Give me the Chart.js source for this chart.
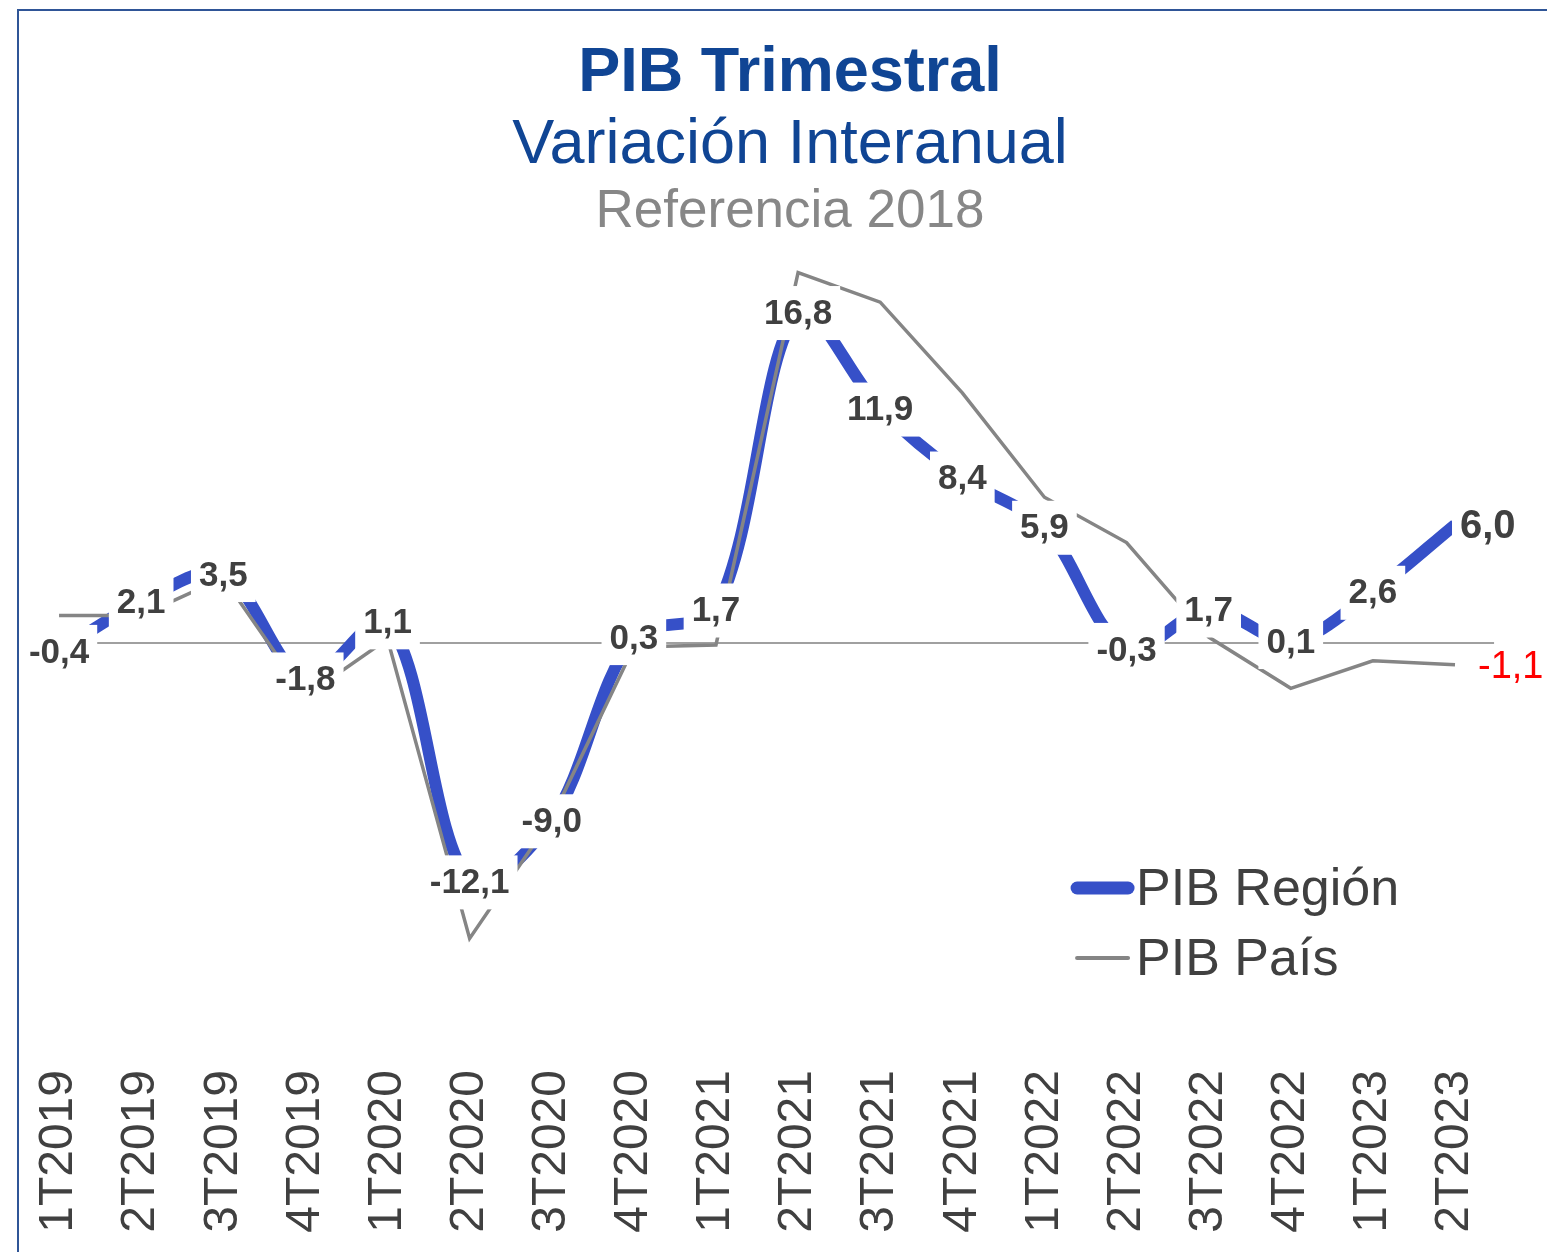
<!DOCTYPE html>
<html lang="es">
<head>
<meta charset="utf-8">
<title>PIB Trimestral</title>
<script src="https://cdn.jsdelivr.net/npm/chart.js@4.4.0/dist/chart.umd.min.js"></script>
<style>
    html, body { margin: 0; padding: 0; background: #fff; overflow: hidden; }
    #marco {
        position: absolute; left: 17px; top: 9px; width: 1600px; height: 1300px;
        border-top: 2px solid #2F5597; border-left: 2px solid #2F5597;
    }
    #grafico { position: absolute; left: 0; top: 0; }
</style>
</head>
<body>
<div id="marco"></div>
<canvas id="grafico" width="1547" height="1252"></canvas>
<script>
(function () {
    "use strict";

    var titulo = 'PIB Trimestral';
    var subtitulo = 'Variación Interanual';
    var referencia = 'Referencia 2018';

    var trimestres = ['1T2019', '2T2019', '3T2019', '4T2019', '1T2020', '2T2020', '3T2020', '4T2020', '1T2021',
        '2T2021', '3T2021', '4T2021', '1T2022', '2T2022', '3T2022', '4T2022', '1T2023', '2T2023'];
    var pibRegion = [-0.4, 2.1, 3.5, -1.8, 1.1, -12.1, -9.0, 0.3, 1.7, 16.8, 11.9, 8.4, 5.9, -0.3, 1.7, 0.1, 2.6, 6.0];
    var pibPais = [1.4, 1.4, 3.3, -2.7, 0.2, -15.0, -8.9, -0.2, -0.1, 18.8, 17.3, 12.7, 7.4, 5.1, 0.3, -2.3, -0.9, -1.1];

    var fuente = '"Liberation Sans", Arial, sans-serif';

    function formato(v) {
        return v.toFixed(1).replace('.', ',');
    }

    // titulos centrados arriba
    var titulos = {
        id: 'titulos',
        afterDraw: function (chart) {
            var ctx = chart.ctx;
            var cx = 790;
            ctx.save();
            ctx.textAlign = 'center';
            ctx.textBaseline = 'alphabetic';
            ctx.fillStyle = '#104594';
            ctx.font = 'bold 63px ' + fuente;
            ctx.fillText(titulo, cx, 91);
            ctx.font = '63px ' + fuente;
            ctx.fillText(subtitulo, cx, 163);
            ctx.fillStyle = '#878787';
            ctx.font = '53px ' + fuente;
            ctx.fillText(referencia, cx, 227);
            ctx.restore();
        }
    };

    // linea del cero
    var lineaCero = {
        id: 'lineaCero',
        beforeDatasetsDraw: function (chart) {
            var a = chart.chartArea;
            var y0 = chart.scales.y.getPixelForValue(0);
            var ctx = chart.ctx;
            ctx.save();
            ctx.strokeStyle = '#A0A0A0';
            ctx.lineWidth = 2;
            ctx.beginPath();
            ctx.moveTo(a.left + 10, y0);
            ctx.lineTo(a.right - 2, y0);
            ctx.stroke();
            ctx.restore();
        }
    };

    // etiquetas de datos con fondo blanco
    var etiquetas = {
        id: 'etiquetas',
        afterDatasetsDraw: function (chart) {
            var ctx = chart.ctx;
            var region = chart.getDatasetMeta(0);
            var pais = chart.getDatasetMeta(1);
            var ultimo = pibRegion.length - 1;
            ctx.save();
            ctx.textBaseline = 'middle';
            region.data.forEach(function (pt, i) {
                var txt = formato(pibRegion[i]);
                ctx.font = 'bold ' + (i === ultimo ? 40 : 35) + 'px ' + fuente;
                var w = ctx.measureText(txt).width + 16;
                var left = i === ultimo ? pt.x - 3 : pt.x - w / 2;
                ctx.fillStyle = '#fff';
                ctx.fillRect(left, pt.y - 26, w, 54);
                ctx.fillStyle = '#404040';
                ctx.textAlign = 'left';
                ctx.fillText(txt, left + 8, pt.y + 2);
            });
            var p = pais.data[ultimo];
            ctx.font = '38px ' + fuente;
            ctx.fillStyle = '#FF0000';
            ctx.textAlign = 'left';
            ctx.fillText(formato(pibPais[ultimo]), p.x + 23, p.y + 3);
            ctx.restore();
        }
    };

    // leyenda dentro del area
    var leyenda = {
        id: 'leyenda',
        afterDraw: function (chart) {
            var a = chart.chartArea;
            var ctx = chart.ctx;
            var x = a.right - 426;
            ctx.save();
            chart.data.datasets.forEach(function (ds, i) {
                var y = a.bottom - 149 + i * 70;
                ctx.strokeStyle = ds.borderColor;
                ctx.lineWidth = i === 0 ? 13 : 4;
                ctx.lineCap = 'round';
                ctx.beginPath();
                ctx.moveTo(x + 7, y);
                ctx.lineTo(x + 58, y);
                ctx.stroke();
                ctx.fillStyle = '#404040';
                ctx.font = '52px ' + fuente;
                ctx.textAlign = 'left';
                ctx.textBaseline = 'alphabetic';
                ctx.fillText(ds.label, x + 66, y + 17);
            });
            ctx.restore();
        }
    };

    var ctx = document.getElementById('grafico').getContext('2d');
    var chart = new Chart(ctx, {
        type: 'line',
        data: {
            labels: trimestres,
            datasets: [{
                label: 'PIB Región',
                data: pibRegion,
                borderColor: '#3650C8',
                borderWidth: 12,
                tension: 0.33,
                pointRadius: 0,
                borderJoinStyle: 'round',
                order: 2
            },
            {
                label: 'PIB País',
                data: pibPais,
                borderColor: '#858585',
                borderWidth: 3.5,
                tension: 0,
                pointRadius: 0,
                order: 1
            }]
        },
        options: {
            responsive: false,
            animation: false,
            devicePixelRatio: 1,
            layout: {
                padding: { left: 18, right: 50, top: 249, bottom: 0 }
            },
            scales: {
                x: {
                    offset: true,
                    grid: { display: false, drawTicks: false },
                    border: { display: false },
                    ticks: {
                        autoSkip: false,
                        minRotation: 90,
                        maxRotation: 90,
                        padding: 33,
                        color: '#404040',
                        font: { family: fuente, size: 48 }
                    },
                    afterFit: function (scale) {
                        scale.height = 215;
                    }
                },
                y: {
                    display: false,
                    min: -20,
                    max: 20
                }
            },
            plugins: {
                legend: { display: false },
                tooltip: { enabled: false }
            }
        },
        plugins: [titulos, lineaCero, etiquetas, leyenda]
    });
})();
</script>
</body>
</html>
